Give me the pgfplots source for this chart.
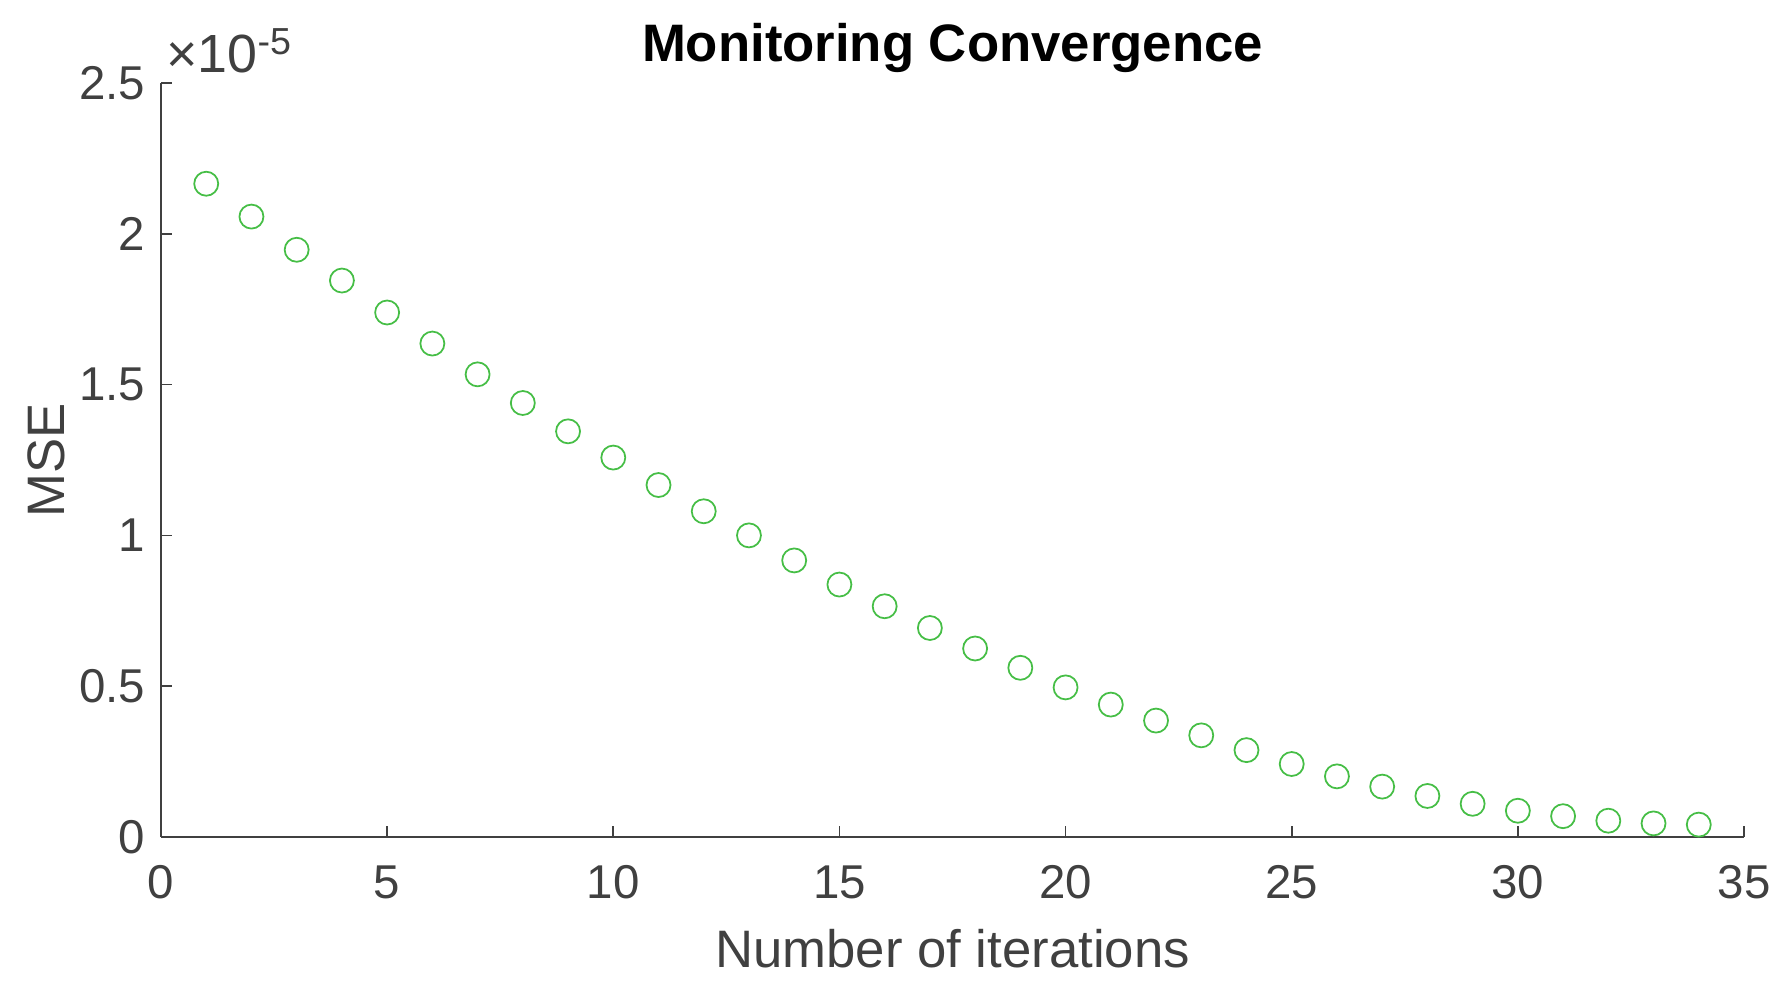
\documentclass[border=0pt]{standalone}
\usepackage{pgfplots}
\pgfplotsset{compat=1.18}
\usepackage{fontspec}
\setmainfont{Liberation Sans}
\definecolor{axgray}{RGB}{64,64,64}
\definecolor{mkgreen}{RGB}{70,190,70}
\begin{document}
\begin{tikzpicture}
\path[use as bounding box] (-16.1mm,-15.7mm) rectangle (162.9mm,83.7mm);
\begin{axis}[
  at={(0,0)}, anchor=south west,
  scale only axis, width=158.3mm, height=75.4mm,
  xmin=0, xmax=35, ymin=0, ymax=2.5,
  axis x line*=bottom, axis y line*=left,
  axis line style={axgray, line width=0.5pt, -},
  xtick={0,5,...,35}, ytick={0,0.5,1,1.5,2,2.5},
  yticklabels={0,0.5,1,1.5,2,2.5},
  tick align=inside, major tick length=1.1mm,
  tick style={axgray, line width=0.5pt},
  /pgf/number format/assume math mode=true,
  ticklabel style={font=\fontsize{13.5}{15}\selectfont, text=axgray, inner sep=0pt},
  xticklabel style={anchor=north, yshift=-2.8mm},
  yticklabel style={anchor=east, xshift=-1.5mm},
  title={Monitoring Convergence},
  title style={font=\fontsize{15}{17}\selectfont\bfseries, at={(axis description cs:0.5,1.0008)}, anchor=base, inner sep=0pt},
  xlabel={Number of iterations},
  xlabel style={font=\fontsize{15}{17}\selectfont, text=axgray, at={(axis description cs:0.5,-0.1737)}, anchor=base, inner sep=0pt},
  ylabel={MSE},
  ylabel style={font=\fontsize{15}{17}\selectfont, text=axgray, at={(axis description cs:-0.0726,0.5)}, anchor=center, inner sep=0pt},
  clip=false,
]
% MSE values in units of 1e-5
\addplot[only marks, mark=o, mark size=1.2mm, mark options={mkgreen, line width=0.5pt}] coordinates {
(1,2.166) (2,2.057) (3,1.947) (4,1.845) (5,1.739) (6,1.636) (7,1.534) (8,1.439)
(9,1.345) (10,1.258) (11,1.167) (12,1.080) (13,1.000) (14,0.917) (15,0.837)
(16,0.765) (17,0.693) (18,0.625) (19,0.561) (20,0.496) (21,0.439) (22,0.386)
(23,0.337) (24,0.288) (25,0.242) (26,0.201) (27,0.167) (28,0.136) (29,0.110)
(30,0.087) (31,0.069) (32,0.054) (33,0.045) (34,0.041)
};
\node[anchor=base west, inner sep=0pt, text=axgray, font=\fontsize{15.3}{17}\selectfont] at (axis description cs:0.003,1.0135) {×10\textsuperscript{-5}};
\end{axis}
\end{tikzpicture}
\end{document}
